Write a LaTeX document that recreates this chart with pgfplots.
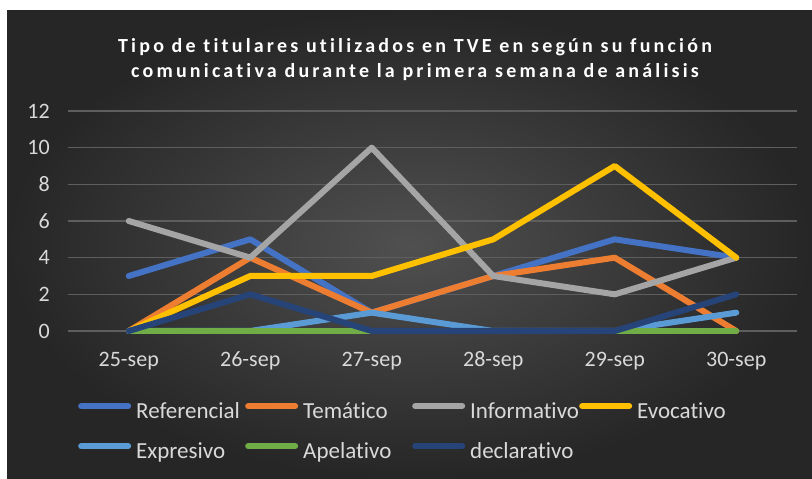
\documentclass[border=0pt]{standalone}
\usepackage{pgfplots}
\pgfplotsset{compat=1.18}
\usepackage{fontspec}
\setmainfont{Carlito}[Ligatures={NoCommon}]
\newfontfamily\titlefont{Carlito}[LetterSpace=16,Ligatures={NoCommon}]
\definecolor{bgin}{HTML}{505050}
\definecolor{bgout}{HTML}{262626}
\definecolor{gridc}{HTML}{5E5E5E}
\definecolor{labc}{HTML}{D9D9D9}
\definecolor{cref}{HTML}{4472C4}
\definecolor{ctem}{HTML}{ED7D31}
\definecolor{cinf}{HTML}{A5A5A5}
\definecolor{cevo}{HTML}{FFC000}
\definecolor{cexp}{HTML}{5B9BD5}
\definecolor{cape}{HTML}{70AD47}
\definecolor{cdec}{HTML}{264478}
\begin{document}
\begin{tikzpicture}[x=1bp,y=1bp]
\fill[white] (0,0) rectangle (812,479);
\shade[inner color=bgin, outer color=bgout] (7,0) rectangle (812,468);
\node[align=center, text=white, font=\titlefont\bfseries\fontsize{20bp}{25bp}\selectfont] at (415,419.5)
  {Tipo de titulares utilizados en TVE en según su función\\comunicativa durante la primera semana de análisis};
\begin{axis}[
  at={(68bp,148bp)}, anchor=south west, scale only axis,
  width=729bp, height=220bp,
  xmin=-0.5, xmax=5.5, ymin=0, ymax=12, clip=false,
  xtick={0,...,5}, xticklabels={25-sep,26-sep,27-sep,28-sep,29-sep,30-sep},
  ytick={0,2,...,12},
  axis line style={draw=none}, major tick length=0pt,
  ymajorgrids, grid style={draw=gridc, line width=1.2bp},
  ticklabel style={font=\fontsize{22bp}{26bp}\selectfont, text=labc, inner sep=0pt},
  xticklabel style={anchor=base, yshift=-36bp},
  yticklabel style={anchor=east, xshift=-18bp},
  /pgf/number format/assume math mode=true,
  every axis plot/.append style={line width=6bp, line cap=round, line join=round, mark=none},
  legend columns=4, legend cell align=left,
  legend image code/.code={\path[draw=none,fill=none] (0bp,0bp) rectangle (53bp,14bp); \draw[#1, line width=6bp, line cap=round] (3bp,7bp) -- (50bp,7bp);},
  legend style={at={(0.0137,-0.309)}, anchor=north west, draw=none, fill=none, inner sep=0pt,
    font=\fontsize{23bp}{26bp}\selectfont, text=labc, row sep=16bp,
    nodes={inner sep=0pt, text height=15bp, text depth=5bp},
    /tikz/every odd column/.append style={column sep=5bp}},
]
\addplot[cref] coordinates {(0,3)(1,5)(2,1)(3,3)(4,5)(5,4)};
\addlegendentry{\makebox[109bp][l]{Referencial}}
\addplot[ctem] coordinates {(0,0)(1,4)(2,1)(3,3)(4,4)(5,0)};
\addlegendentry{\makebox[109bp][l]{Temático}}
\addplot[cinf] coordinates {(0,6)(1,4)(2,10)(3,3)(4,2)(5,4)};
\addlegendentry{\makebox[109bp][l]{Informativo}}
\addplot[cevo] coordinates {(0,0)(1,3)(2,3)(3,5)(4,9)(5,4)};
\addlegendentry{Evocativo}
\addplot[cexp] coordinates {(0,0)(1,0)(2,1)(3,0)(4,0)(5,1)};
\addlegendentry{\makebox[109bp][l]{Expresivo}}
\addplot[cape] coordinates {(0,0)(1,0)(2,0)(3,0)(4,0)(5,0)};
\addlegendentry{\makebox[109bp][l]{Apelativo}}
\addplot[cdec] coordinates {(0,0)(1,2)(2,0)(3,0)(4,0)(5,2)};
\addlegendentry{\makebox[109bp][l]{declarativo}}
\end{axis}
\end{tikzpicture}
\end{document}
